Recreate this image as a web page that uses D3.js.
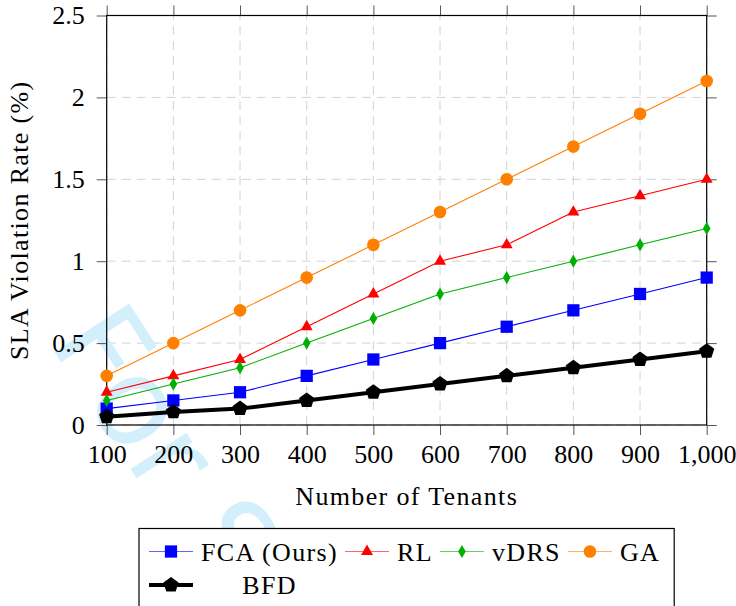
<!DOCTYPE html>
<html>
<head>
<meta charset="utf-8">
<script src="https://cdn.jsdelivr.net/npm/d3@7"></script>
<style>
  body { margin: 0; background: #fff; }
  svg { display: block; }
</style>
</head>
<body>
<svg width="736" height="606" font-family="Liberation Serif"></svg>
<script>
// data
var tenants = [100, 200, 300, 400, 500, 600, 700, 800, 900, 1000];
var fca  = [0.1, 0.15, 0.2, 0.3, 0.4, 0.5, 0.6, 0.7, 0.8, 0.9];
var rl   = [0.2, 0.3, 0.4, 0.6, 0.8, 1.0, 1.1, 1.3, 1.4, 1.5];
var vdrs = [0.15, 0.25, 0.35, 0.5, 0.65, 0.8, 0.9, 1.0, 1.1, 1.2];
var ga   = [0.3, 0.5, 0.7, 0.9, 1.1, 1.3, 1.5, 1.7, 1.9, 2.1];
var bfd  = [0.05, 0.08, 0.1, 0.15, 0.2, 0.25, 0.3, 0.35, 0.4, 0.45];
var seriesNames = ["FCA (Ours)", "RL", "vDRS", "GA", "BFD"];
var yTicks = [0, 0.5, 1, 1.5, 2, 2.5];

var textFont = "Liberation Serif";

var series = [
  {name: seriesNames[0], values: fca,  color: "#0000ff", width: 1.1, marker: "square"},
  {name: seriesNames[1], values: rl,   color: "#ff0000", width: 1.1, marker: "triangle"},
  {name: seriesNames[2], values: vdrs, color: "#00b000", width: 1.1, marker: "diamond"},
  {name: seriesNames[3], values: ga,   color: "#ff8000", width: 1.1, marker: "circle"},
  {name: seriesNames[4], values: bfd,  color: "#000000", width: 4,   marker: "pentagon"}
];

var svg = d3.select("svg");
var margin = {top: 15.5, right: 29.3, bottom: 181, left: 106.7};
var width = 736 - margin.left - margin.right;
var height = 606 - margin.top - margin.bottom;

var x = d3.scaleLinear().domain([100, 1000]).range([margin.left, margin.left + width]);
var y = d3.scaleLinear().domain([0, 2.5]).range([margin.top + height, margin.top]);

// grid
svg.append("g").selectAll("line")
  .data(tenants).enter().append("line")
  .attr("x1", function(d) { return x(d); }).attr("x2", function(d) { return x(d); })
  .attr("y1", y(0)).attr("y2", y(2.5))
  .attr("stroke", "#d3d3d3").attr("stroke-width", 1).attr("stroke-dasharray", "9,6");
svg.append("g").selectAll("line")
  .data(yTicks).enter().append("line")
  .attr("y1", function(d) { return y(d); }).attr("y2", function(d) { return y(d); })
  .attr("x1", x(100)).attr("x2", x(1000))
  .attr("stroke", "#d3d3d3").attr("stroke-width", 1).attr("stroke-dasharray", "9,6");

// watermark
svg.append("text")
  .attr("transform", "translate(48,342) rotate(57)")
  .attr("font-family", "DejaVu Sans")
  .attr("font-size", 122)
  .attr("fill", "#d3effb")
  .text("For S");

// axes (ticks outside on all four sides)
function styleAxis(g) {
  g.attr("font-family", textFont).attr("font-size", 26);
  g.select(".domain").remove();
  g.selectAll(".tick line").attr("stroke", "#555").attr("stroke-width", 1);
  g.selectAll("text").attr("font-family", textFont).attr("font-size", 26).attr("fill", "#000");
}
svg.append("g").attr("transform", "translate(0," + y(0) + ")")
  .call(d3.axisBottom(x).tickValues(tenants).tickSize(10).tickPadding(10).tickFormat(d3.format(",")))
  .call(styleAxis);
svg.append("g").attr("transform", "translate(0," + y(2.5) + ")")
  .call(d3.axisTop(x).tickValues(tenants).tickSize(10).tickFormat(""))
  .call(styleAxis);
svg.append("g").attr("transform", "translate(" + x(100) + ",0)")
  .call(d3.axisLeft(y).tickValues(yTicks).tickSize(10).tickPadding(12).tickFormat(d3.format("")))
  .call(styleAxis);
svg.append("g").attr("transform", "translate(" + x(1000) + ",0)")
  .call(d3.axisRight(y).tickValues(yTicks).tickSize(10).tickFormat(""))
  .call(styleAxis);

svg.append("rect")
  .attr("x", x(100)).attr("y", y(2.5))
  .attr("width", x(1000) - x(100)).attr("height", y(0) - y(2.5))
  .attr("fill", "none").attr("stroke", "#000").attr("stroke-width", 1.2);

// markers
function pentagon(r) {
  var pts = d3.range(5).map(function(k) {
    var a = -Math.PI / 2 + k * 2 * Math.PI / 5;
    return [r * Math.cos(a), r * Math.sin(a)];
  });
  return "M" + pts.join("L") + "Z";
}
function markerPath(m) {
  switch (m) {
    case "square": return d3.symbol(d3.symbolSquare, 150)();
    case "triangle": return d3.symbol(d3.symbolTriangle, 62)();
    case "diamond": return d3.symbol(d3.symbolDiamond, 50)();
    case "circle": return d3.symbol(d3.symbolCircle, 125)();
    default: return pentagon(8);
  }
}

var line = d3.line()
  .x(function(d, i) { return x(tenants[i]); })
  .y(function(d) { return y(d); });

series.forEach(function(s) {
  svg.append("path")
    .datum(s.values)
    .attr("d", line)
    .attr("fill", "none")
    .attr("stroke", s.color)
    .attr("stroke-width", s.width)
    .attr("stroke-linejoin", "round");
  svg.append("g").selectAll("path")
    .data(s.values).enter().append("path")
    .attr("d", markerPath(s.marker))
    .attr("transform", function(d, i) { return "translate(" + x(tenants[i]) + "," + y(d) + ")"; })
    .attr("fill", s.color);
});

// axis labels
svg.append("text")
  .attr("x", (x(100) + x(1000)) / 2).attr("y", 505)
  .attr("text-anchor", "middle")
  .attr("font-family", textFont).attr("font-size", 26).attr("letter-spacing", 1.35)
  .text("Number of Tenants");
svg.append("text")
  .attr("transform", "translate(28," + (y(0) + y(2.5)) / 2 + ") rotate(-90)")
  .attr("text-anchor", "middle")
  .attr("font-family", textFont).attr("font-size", 26).attr("letter-spacing", 1.35)
  .text("SLA Violation Rate (%)");

// legend
var legend = svg.append("g");
var box = legend.append("rect")
  .attr("x", 139).attr("y", 528.5).attr("height", 120)
  .attr("fill", "#fff").attr("stroke", "#000").attr("stroke-width", 1.2);

var cursor = 149, row1 = 551.5, row2 = 585, firstText = null, lastEnd = 0;
function legendEntry(s, x0, yy, textX, anchor) {
  legend.append("line")
    .attr("x1", x0).attr("x2", x0 + 44).attr("y1", yy).attr("y2", yy)
    .attr("stroke", s.color).attr("stroke-width", s.width)
    .attr("stroke-opacity", s.width > 2 ? 1 : 0.6);
  legend.append("path")
    .attr("d", markerPath(s.marker))
    .attr("transform", "translate(" + (x0 + 22) + "," + yy + ")")
    .attr("fill", s.color);
  return legend.append("text")
    .attr("x", textX).attr("y", yy + 9)
    .attr("text-anchor", anchor)
    .attr("font-family", textFont).attr("font-size", 26).attr("letter-spacing", 1.35)
    .text(s.name);
}
series.slice(0, 4).forEach(function(s, i) {
  var t = legendEntry(s, cursor, row1, cursor + 52, "start");
  var w = t.node().getComputedTextLength();
  if (i === 0) firstText = {x: cursor + 52, w: w};
  lastEnd = cursor + 52 + w;
  cursor = lastEnd + 7;
});
legendEntry(series[4], 149, row2, firstText.x + firstText.w / 2, "middle");
box.attr("width", lastEnd + 14 - 139);
</script>
</body>
</html>
